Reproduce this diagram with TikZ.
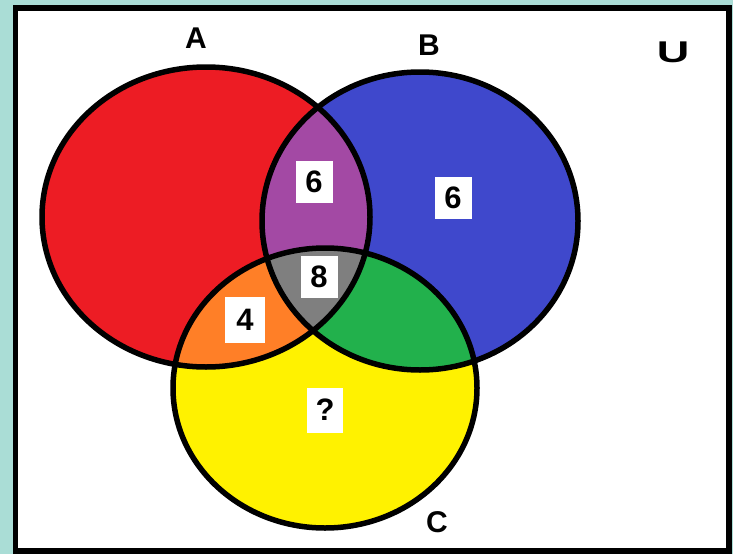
\documentclass[tikz,border=0pt]{standalone}
\usepackage{fontspec}
\setmainfont{Liberation Sans}
\definecolor{tealbg}{HTML}{AADDD6}
\definecolor{cred}{HTML}{ED1C24}
\definecolor{cblue}{HTML}{3F48CC}
\definecolor{cyellow}{HTML}{FFF200}
\definecolor{cpurple}{HTML}{A349A4}
\definecolor{corange}{HTML}{FF7F27}
\definecolor{cgreen}{HTML}{22B14C}
\definecolor{cgray}{HTML}{7F7F7F}
\begin{document}
\begin{tikzpicture}[x=1pt,y=-1pt,
  numbox/.style={fill=white,inner sep=0pt,minimum width=37pt,minimum height=42pt,font=\fontsize{31}{31}\bfseries\selectfont},
  setlabel/.style={font=\fontsize{30}{30}\bfseries\selectfont,inner sep=0pt},
  outline/.style={draw=black,line width=5.5pt}]
\useasboundingbox (0,0) rectangle (733,554);
\fill[tealbg] (0,0) rectangle (733,554);
\draw[fill=white,line width=5.5pt] (15.5,8) rectangle (729,551);
\def\ellA{(206,217) ellipse [x radius=164pt, y radius=150pt]}
\def\ellB{(420,221) ellipse [x radius=158pt, y radius=149pt]}
\def\ellC{(325,388) ellipse [x radius=152pt, y radius=140pt]}
\fill[cred] \ellA;
\fill[cblue] \ellB;
\fill[cyellow] \ellC;
\begin{scope}\clip \ellA; \fill[cpurple] \ellB; \end{scope}
\begin{scope}\clip \ellA; \fill[corange] \ellC; \end{scope}
\begin{scope}\clip \ellB; \fill[cgreen] \ellC; \end{scope}
\begin{scope}\clip \ellA; \clip \ellB; \fill[cgray] \ellC; \end{scope}
\draw[outline] \ellA;
\draw[outline] \ellB;
\draw[outline] \ellC;
\node[setlabel] (la) at (196,38) {A};
\node[setlabel] (lb) at (429,45) {B};
\node[setlabel,xscale=1.5] (lu) at (673,52) {U};
\node[setlabel] (lc) at (437,522) {C};
\node[numbox] (nab) at (314,182) {6};
\node[numbox] (nb) at (453,198) {6};
\node[numbox] (nabc) at (319,277) {8};
\node[numbox,minimum width=40pt,minimum height=46pt] (nac) at (245,320) {4};
\node[numbox,minimum width=36pt,minimum height=45pt] (nc) at (325,410) {?};
\end{tikzpicture}
\end{document}
